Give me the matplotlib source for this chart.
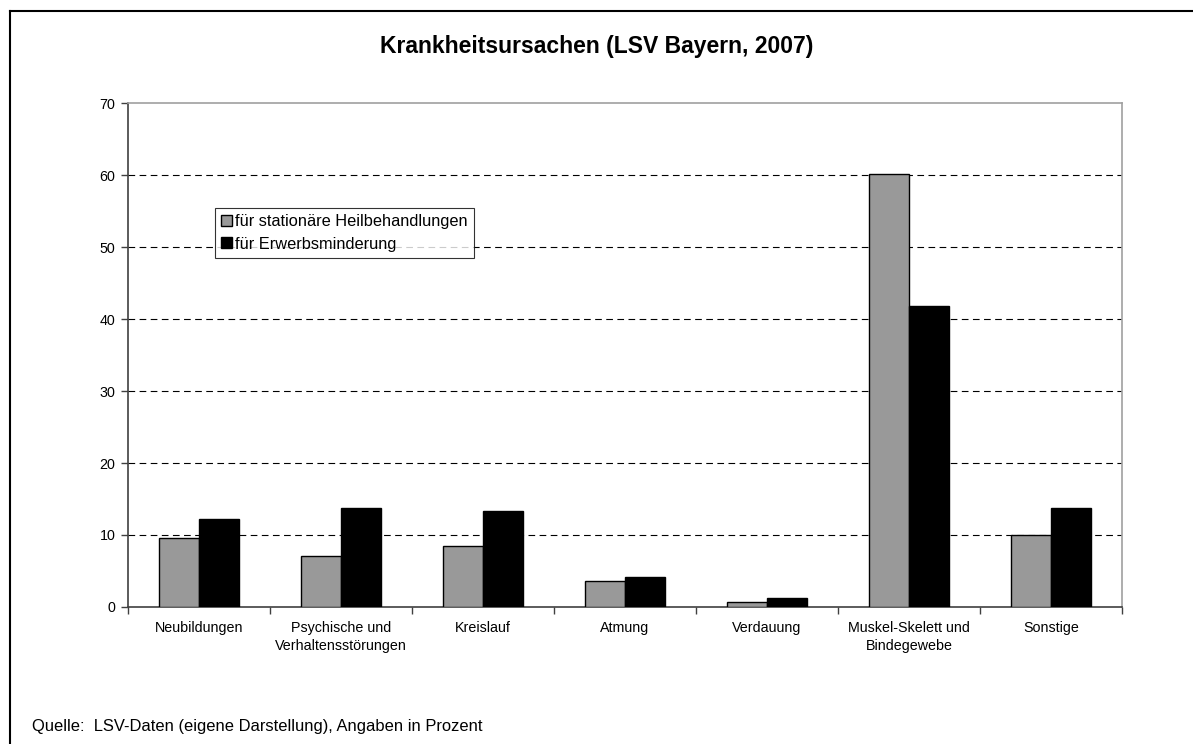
import matplotlib.pyplot as plt
from matplotlib.lines import Line2D
import numpy as np

plt.rcParams['font.family'] = ['Liberation Sans', 'DejaVu Sans']

categories = ["Neubildungen", "Psychische und\nVerhaltensstörungen", "Kreislauf",
              "Atmung", "Verdauung", "Muskel-Skelett und\nBindegewebe", "Sonstige"]
heilbehandlung = [9.6, 7.1, 8.5, 3.65, 0.7, 60.2, 10.0]
erwerbsminderung = [12.2, 13.8, 13.3, 4.2, 1.2, 41.85, 13.75]
series_names = ["für stationäre Heilbehandlungen", "für Erwerbsminderung"]
yticks = [0, 10, 20, 30, 40, 50, 60, 70]

W, H = 1193, 744
fig = plt.figure(figsize=(W / 100, H / 100), dpi=100)

# chart frame: only top and left edges fall inside the picture
fig.lines.append(Line2D([9.5 / W, 1.0], [1 - 10.5 / H, 1 - 10.5 / H], transform=fig.transFigure,
                        color='black', linewidth=1.5))
fig.lines.append(Line2D([9.5 / W, 9.5 / W], [0.0, 1 - 10.5 / H], transform=fig.transFigure,
                        color='black', linewidth=1.5))

left, right, top, bottom = 128, 1122, 103, 607
ax = fig.add_axes([left / W, 1 - bottom / H, (right - left) / W, (bottom - top) / H])

n = len(categories)
x = np.arange(n)
bw = 0.285
ax.bar(x - bw / 2, heilbehandlung, bw, color='#999999', edgecolor='black',
       linewidth=1, label=series_names[0], zorder=3)
ax.bar(x + bw / 2, erwerbsminderung, bw, color='black', edgecolor='black',
       linewidth=1, label=series_names[1], zorder=3)

ax.set_xlim(-0.5, n - 0.5)
ax.set_ylim(0, 70)
ax.set_yticks(yticks)
ax.set_yticklabels([str(v) for v in yticks], fontsize=10.3)
for v in yticks[1:-1]:
    ax.axhline(v, color='black', linestyle=(0, (6, 4)), linewidth=0.8, zorder=1)

ax.set_xticks(np.arange(n + 1) - 0.5)
ax.set_xticklabels([])
ax.set_xticks(x, minor=True)
ax.set_xticklabels(categories, minor=True, fontsize=10.3, linespacing=1.4)
ax.tick_params(axis='x', which='minor', length=0, pad=10)
ax.tick_params(axis='both', which='major', length=5, width=1, color='#404040')
ax.tick_params(axis='y', pad=4)

for s in ['left', 'bottom']:
    ax.spines[s].set_color('#404040')
    ax.spines[s].set_linewidth(1.2)
for s in ['top', 'right']:
    ax.spines[s].set_color('#a0a0a0')
    ax.spines[s].set_linewidth(1.2)

leg = ax.legend(loc='upper left', bbox_to_anchor=((215 - left) / (right - left), (bottom - 208) / (bottom - top)),
                fontsize=11.8, frameon=True, fancybox=False, edgecolor='black',
                handlelength=0.65, handleheight=0.65, handletextpad=0.2,
                borderpad=0.38, labelspacing=0.45, borderaxespad=0)
leg.get_frame().set_linewidth(0.8)
leg.set_zorder(5)

fig.text(597 / W, 1 - 46 / H, "Krankheitsursachen (LSV Bayern, 2007)", ha='center', va='center',
         fontsize=16.5, fontweight='bold')
fig.text(32 / W, 1 - 726 / H, "Quelle:  LSV-Daten (eigene Darstellung), Angaben in Prozent",
         ha='left', va='center', fontsize=11.9)

fig.savefig("out.png", dpi=100)
